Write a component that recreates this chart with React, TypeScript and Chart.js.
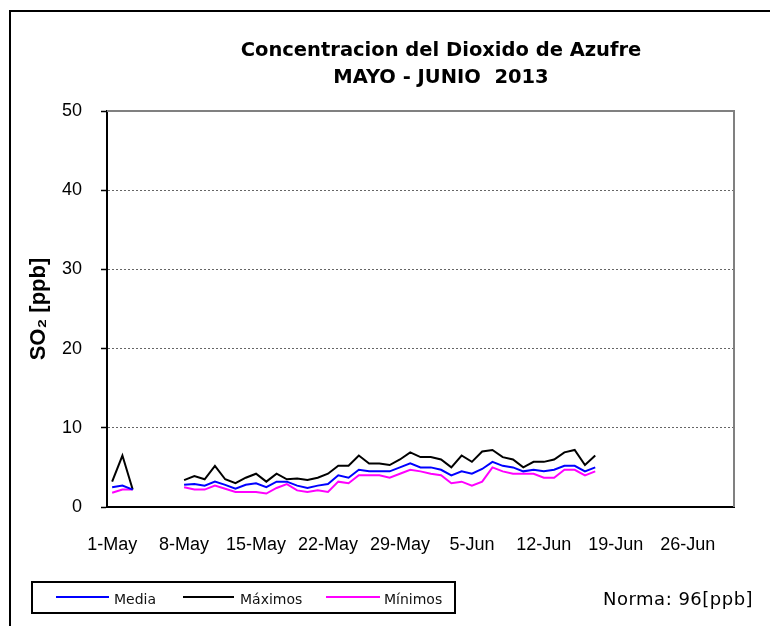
import React, { useEffect, useRef } from 'react';
import { Chart, registerables } from 'chart.js';

Chart.register(...registerables);

const days = [
  '1-May', '2-May', '3-May', '4-May', '5-May', '6-May', '7-May', '8-May', '9-May', '10-May',
  '11-May', '12-May', '13-May', '14-May', '15-May', '16-May', '17-May', '18-May', '19-May', '20-May',
  '21-May', '22-May', '23-May', '24-May', '25-May', '26-May', '27-May', '28-May', '29-May', '30-May',
  '31-May', '1-Jun', '2-Jun', '3-Jun', '4-Jun', '5-Jun', '6-Jun', '7-Jun', '8-Jun', '9-Jun',
  '10-Jun', '11-Jun', '12-Jun', '13-Jun', '14-Jun', '15-Jun', '16-Jun', '17-Jun', '18-Jun', '19-Jun',
  '20-Jun', '21-Jun', '22-Jun', '23-Jun', '24-Jun', '25-Jun', '26-Jun', '27-Jun', '28-Jun', '29-Jun',
  '30-Jun',
];

const N = null;

const media = [
  2.5, 2.7, 2.2, N, N, N, N,
  2.8, 2.9, 2.7, 3.2, 2.8, 2.3, 2.8, 3.0, 2.5, 3.2, 3.2, 2.7, 2.4, 2.7, 2.9,
  4.0, 3.7, 4.7, 4.5, 4.5, 4.5, 5.0, 5.5, 5.0, 5.0, 4.7, 4.0, 4.5, 4.2, 4.8,
  5.7, 5.2, 5.0, 4.5, 4.7, 4.5, 4.7, 5.2, 5.2, 4.5, 5.0,
  N, N, N, N, N, N, N, N, N, N, N, N, N,
];

const maximos = [
  3.2, 6.5, 2.2, N, N, N, N,
  3.4, 3.9, 3.5, 5.2, 3.5, 3.0, 3.7, 4.2, 3.2, 4.2, 3.5, 3.6, 3.4, 3.7, 4.2,
  5.2, 5.2, 6.5, 5.5, 5.5, 5.3, 6.0, 6.9, 6.3, 6.3, 6.0, 5.0, 6.5, 5.7, 7.0,
  7.2, 6.3, 6.0, 5.0, 5.7, 5.7, 6.0, 6.9, 7.2, 5.3, 6.5,
  N, N, N, N, N, N, N, N, N, N, N, N, N,
];

const minimos = [
  1.8, 2.2, 2.2, N, N, N, N,
  2.5, 2.2, 2.2, 2.7, 2.3, 1.9, 1.9, 1.9, 1.7, 2.4, 2.9, 2.1, 1.9, 2.1, 1.9,
  3.2, 3.0, 4.0, 4.0, 4.0, 3.7, 4.2, 4.7, 4.5, 4.2, 4.0, 3.0, 3.2, 2.7, 3.2,
  5.0, 4.5, 4.2, 4.2, 4.2, 3.7, 3.7, 4.7, 4.7, 4.0, 4.5,
  N, N, N, N, N, N, N, N, N, N, N, N, N,
];

const seriesNames = ['Media', 'Máximos', 'Mínimos'];
const seriesColors = ['#0000FF', '#000000', '#FF00FF'];
const yMin = 0;
const yMax = 50;
const yStep = 10;
const titleLines = ['Concentracion del Dioxido de Azufre', 'MAYO - JUNIO  2013'];
const yTitle = 'SO₂ [ppb]';
const normaText = 'Norma: 96[ppb]';

const framePlugin = {
  id: 'plotFrame',
  beforeDatasetsDraw(chart: any) {
    const { ctx, chartArea: a } = chart;
    ctx.save();
    ctx.strokeStyle = '#808080';
    ctx.lineWidth = 2;
    ctx.beginPath();
    ctx.moveTo(a.left, a.top);
    ctx.lineTo(a.right, a.top);
    ctx.lineTo(a.right, a.bottom);
    ctx.stroke();
    ctx.restore();
  },
};

const axisFont = { family: '"Liberation Sans", Arial, sans-serif', size: 18 };

export default function App() {
  const ref = useRef<HTMLCanvasElement>(null);

  useEffect(() => {
    const chart = new Chart(ref.current as HTMLCanvasElement, {
      type: 'line',
      data: {
        labels: days,
        datasets: [
          { label: seriesNames[0], data: media, borderColor: seriesColors[0], backgroundColor: seriesColors[0] },
          { label: seriesNames[1], data: maximos, borderColor: seriesColors[1], backgroundColor: seriesColors[1] },
          { label: seriesNames[2], data: minimos, borderColor: seriesColors[2], backgroundColor: seriesColors[2] },
        ],
      },
      options: {
        responsive: false,
        animation: false,
        layout: { padding: { left: 0, right: 36, top: 111, bottom: 0 } },
        plugins: {
          legend: { display: false },
          title: { display: false },
          tooltip: { enabled: false },
        },
        elements: {
          point: { radius: 0, hoverRadius: 0 },
          line: { tension: 0, borderWidth: 2 },
        },
        scales: {
          x: {
            type: 'category',
            offset: true,
            grid: { display: false, drawTicks: false },
            border: { display: true, color: '#000', width: 2 },
            ticks: {
              autoSkip: false,
              maxRotation: 0,
              minRotation: 0,
              padding: 27,
              color: '#000',
              font: axisFont,
              callback: (_v: any, i: number) => (i % 7 === 0 ? days[i] : null),
            },
            afterFit: (s: any) => { s.height = 119; },
          },
          y: {
            min: yMin,
            max: yMax,
            ticks: { stepSize: yStep, padding: 19, color: '#000', font: axisFont },
            grid: {
              color: (c: any) => (c.tick && c.tick.value > yMin && c.tick.value < yMax ? '#666' : 'rgba(0,0,0,0)'),
              lineWidth: 1,
              drawTicks: true,
              tickLength: 6,
              tickColor: '#000',
              tickWidth: 1.5,
            },
            border: { display: true, color: '#000', width: 2, dash: [2, 2] },
            title: {
              display: true,
              text: yTitle,
              color: '#000',
              font: { family: '"Liberation Sans", Arial, sans-serif', size: 22, weight: 'bold' },
              padding: { top: 26, bottom: 0 },
            },
            afterFit: (s: any) => { s.width = 107; },
          },
        },
      } as any,
      plugins: [framePlugin],
    });
    return () => chart.destroy();
  }, []);

  const legendFont = '"DejaVu Sans", Verdana, sans-serif';
  const legendItems = [
    { line: 56, lineW: 53, text: 114 },
    { line: 183, lineW: 51, text: 240 },
    { line: 326, lineW: 54, text: 384 },
  ];

  return (
    <div style={{ position: 'fixed', left: 0, top: 0, width: 770, height: 626, overflow: 'hidden', background: '#fff' }}>
      <div style={{ position: 'absolute', left: 9, top: 10, width: 800, height: 700, border: '2px solid #000' }} />
      <canvas ref={ref} width={770} height={626} style={{ position: 'absolute', left: 0, top: 0, width: 770, height: 626 }} />
      <div
        style={{
          position: 'absolute', left: 141, top: 36, width: 600, textAlign: 'center',
          fontFamily: legendFont, fontWeight: 'bold', fontSize: 19.5, lineHeight: '27px',
          whiteSpace: 'pre', color: '#000',
        }}
      >
        {titleLines[0]}
        {'\n'}
        {titleLines[1]}
      </div>
      <div style={{ position: 'absolute', left: 31, top: 581, width: 425, height: 33, border: '2px solid #000', boxSizing: 'border-box' }} />
      {legendItems.map((it, i) => (
        <React.Fragment key={i}>
          <div style={{ position: 'absolute', left: it.line, top: 596, width: it.lineW, height: 2, background: seriesColors[i] }} />
          <div
            style={{
              position: 'absolute', left: it.text, top: 590, height: 18, lineHeight: '18px',
              fontFamily: legendFont, fontSize: 14, color: '#111', whiteSpace: 'nowrap',
            }}
          >
            {seriesNames[i]}
          </div>
        </React.Fragment>
      ))}
      <div
        style={{
          position: 'absolute', left: 603, top: 587, lineHeight: '24px',
          fontFamily: legendFont, fontSize: 18, letterSpacing: 0.5, color: '#000', whiteSpace: 'nowrap',
        }}
      >
        {normaText}
      </div>
    </div>
  );
}
